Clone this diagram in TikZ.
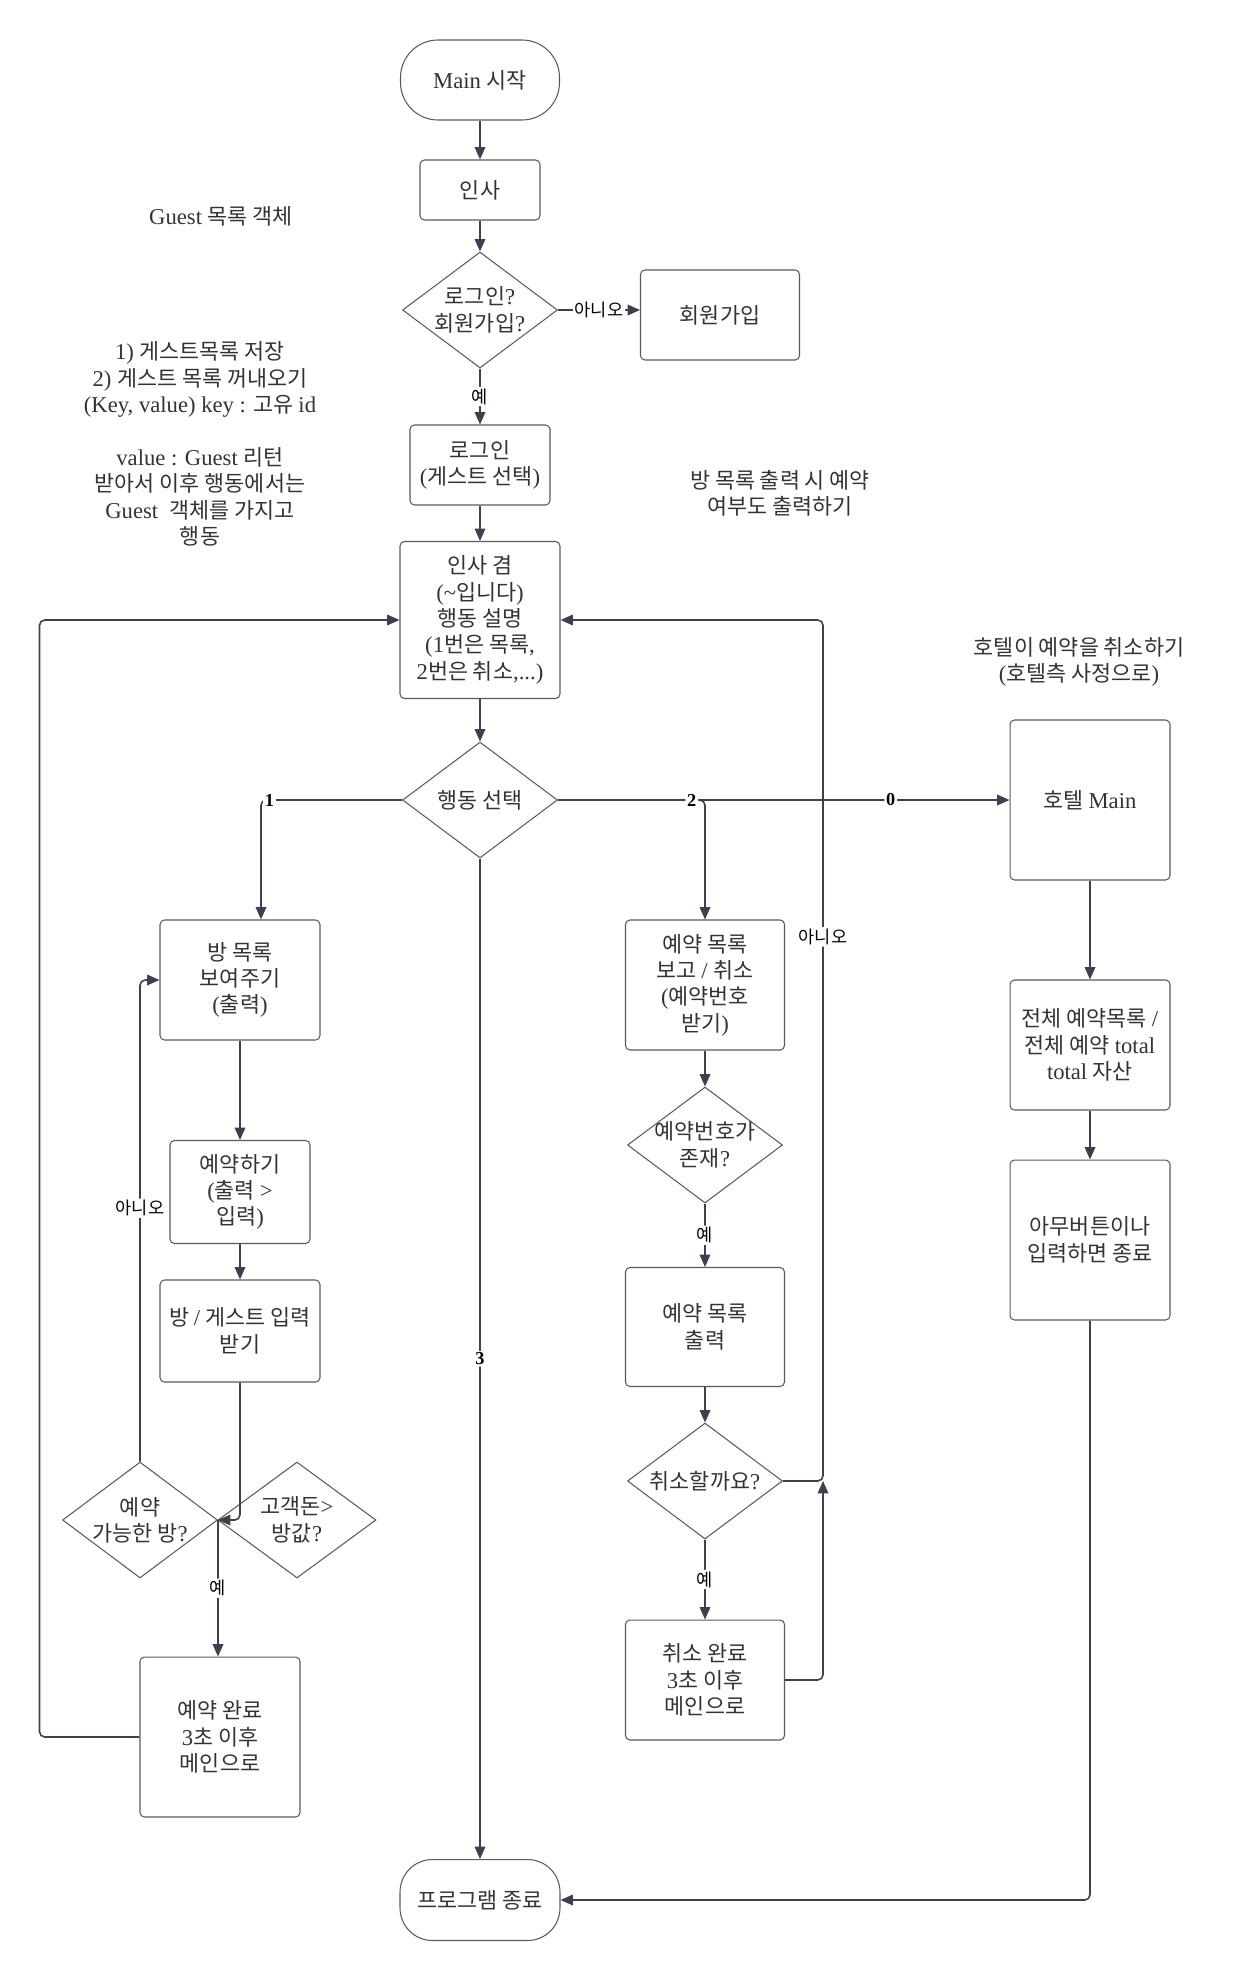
\documentclass[tikz,border=0pt]{standalone}
\usepackage{fontspec}
\setmainfont{Liberation Serif}[Scale=1.04]
\newfontfamily\krfont{Noto Sans CJK KR}
\usetikzlibrary{shapes.geometric,arrows.meta}

\definecolor{linec}{HTML}{3B4150}
\definecolor{edgec}{HTML}{5A5A5A}
\definecolor{txtc}{HTML}{333333}

% Hangul set in the CJK font, everything else in the serif
\XeTeXinterchartokenstate=1
\newXeTeXintercharclass\hangulclass
\count255="AC00
\loop
  \XeTeXcharclass\count255=\hangulclass
  \ifnum\count255<"D7A3 \advance\count255 by 1
\repeat
\XeTeXinterchartoks 0 \hangulclass = {\krfont}
\XeTeXinterchartoks 4095 \hangulclass = {\krfont}
\XeTeXinterchartoks \hangulclass 0 = {\rmfamily}
\XeTeXinterchartoks 4095 0 = {\rmfamily}

\begin{document}
\begin{tikzpicture}[x=0.02cm,y=-0.02cm,
    box/.style={draw=edgec, line width=0.6pt, rounded corners=2.5pt, align=center,
      text=txtc, font=\fontsize{12.4}{15}\selectfont},
    term/.style={box, rounded corners=0.75cm},
    ask/.style={diamond, draw=edgec, line width=0.6pt, aspect=1.34, inner sep=-3pt,
      align=center, text=txtc, font=\fontsize{12.4}{15}\selectfont,
      minimum width=3.1cm, minimum height=2.32cm},
    note/.style={align=center, text=txtc, font=\fontsize{12.4}{15}\selectfont},
    flow/.style={draw=linec, line width=0.9pt, rounded corners=3pt,
      -{Triangle[length=7pt,width=6pt]}},
    tag/.style={fill=white, inner sep=1pt, text=black, font=\fontsize{10}{11}\selectfont},
    pick/.style={tag, font=\fontsize{10}{11}\selectfont\bfseries}]
    \useasboundingbox (0,0) rectangle (1241,1980);

    \node[term, minimum width=3.18cm, minimum height=1.6cm] (start) at (480,80) {Main 시작};
    \node[box, minimum width=2.4cm, minimum height=1.2cm] (greet) at (480,190) {인사};
    \node[ask] (logq) at (480,310) {로그인?\\회원가입?};
    \node[box, minimum width=3.18cm, minimum height=1.8cm] (join) at (720,315) {회원가입};
    \node[box, minimum width=2.8cm, minimum height=1.6cm] (login) at (480,465) {로그인\\(게스트 선택)};
    \node[box, minimum width=3.2cm, minimum height=3.14cm] (menu) at (480,620)
      {인사 겸\\(\textasciitilde{}입니다)\\행동 설명\\(1번은 목록,\\2번은 취소,...)};
    \node[ask] (choice) at (480,800) {행동 선택};

    \node[box, minimum width=3.2cm, minimum height=2.4cm] (rooms) at (240,980) {방 목록\\보여주기\\(출력)};
    \node[box, minimum width=2.8cm, minimum height=2.06cm] (book) at (240,1192) {예약하기\\(출력 >\\입력)};
    \node[box, minimum width=3.2cm, minimum height=2.04cm] (input) at (240,1331) {방 / 게스트 입력\\받기};
    \node[ask] (okroom) at (140,1520) {예약\\가능한 방?};
    \node[ask, minimum width=3.16cm] (money) at (297,1520) {고객돈>\\방값?};
    \node[box, minimum width=3.2cm, minimum height=3.2cm] (booked) at (220,1737) {예약 완료\\3초 이후\\메인으로};

    \node[box, minimum width=3.18cm, minimum height=2.6cm] (resv) at (705,985) {예약 목록\\보고 / 취소\\(예약번호\\받기)};
    \node[ask] (hasno) at (705,1145) {예약번호가\\존재?};
    \node[box, minimum width=3.18cm, minimum height=2.38cm] (list) at (705,1327) {예약 목록\\출력};
    \node[ask] (cancelq) at (705,1481) {취소할까요?};
    \node[box, minimum width=3.18cm, minimum height=2.4cm] (canceled) at (705,1680) {취소 완료\\3초 이후\\메인으로};

    \node[box, minimum width=3.2cm, minimum height=3.2cm] (hotel) at (1090,800) {호텔 Main};
    \node[box, minimum width=3.2cm, minimum height=2.6cm] (total) at (1090,1045)
      {전체 예약목록 /\\전체 예약 total\\total 자산};
    \node[box, minimum width=3.2cm, minimum height=3.2cm] (anykey) at (1090,1240) {아무버튼이나\\입력하면 종료};

    \node[term, rounded corners=0.65cm, minimum width=3.2cm, minimum height=1.62cm] (finish) at (480,1900) {프로그램 종료};

    \node[note] (guestobj) at (221,216) {Guest 목록 객체};
    \node[note] (guestnote) at (200,444)
      {1) 게스트목록 저장\\2) 게스트 목록 꺼내오기\\(Key, value) key : 고유 id\\[15pt]value : Guest 리턴\\받아서 이후 행동에서는\\Guest\ \ 객체를 가지고\\행동};
    \node[note] (roomnote) at (780,493) {방 목록 출력 시 예약\\여부도 출력하기};
    \node[note] (hotelnote) at (1079,662) {호텔이 예약을 취소하기\\(호텔측 사정으로)};

    \coordinate (nojoin) at ([xshift=0.8cm]cancelq.east);

    \draw[flow] (start) -- (greet);
    \draw[flow] (greet) -- (logq);
    \draw[flow] (logq.east) -- node[tag] {아니오} (logq.east -| join.west);
    \draw[flow] (logq) -- node[tag] {예} (login);
    \draw[flow] (login) -- (menu);
    \draw[flow] (menu) -- (choice);

    \draw[flow] (choice.west) -| node[pick, pos=0.47] {1} ([xshift=0.42cm]rooms.north);
    \draw[flow] (choice.east) -- node[pick, pos=0.737] {0} (hotel.west);
    \draw[flow] (choice.east) -| node[pick, pos=0.455] {2} (resv.north);
    \draw[flow] (choice) -- node[pick] {3} (finish);

    \draw[flow] (rooms) -- (book);
    \draw[flow] (book) -- (input);
    \draw[flow] (input.south) |- (okroom.east);
    \draw[flow] (okroom.east) -- node[tag] {예} (okroom.east |- booked.north);
    \draw[flow] (okroom.north) |- node[tag, pos=0.263] {아니오} (rooms.west);
    \draw[flow] (booked.west) -- ++(-100,0) |- (menu.west);

    \draw[flow] (resv) -- (hasno);
    \draw[flow] (hasno) -- node[tag] {예} (list);
    \draw[flow] (list) -- (cancelq);
    \draw[flow] (cancelq) -- node[tag] {예} (canceled);
    \draw[flow] (cancelq.east) -- (nojoin) |- node[tag, pos=0.316] {아니오} (menu.east);
    \draw[flow] (canceled.east) -| (nojoin);

    \draw[flow] (hotel) -- (total);
    \draw[flow] (total) -- (anykey);
    \draw[flow] (anykey.south) |- (finish.east);
  \end{tikzpicture}
\end{document}
